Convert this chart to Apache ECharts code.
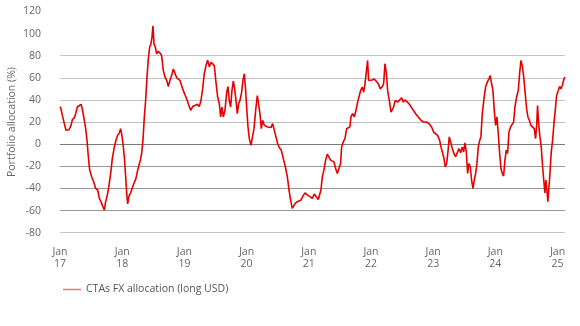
<!DOCTYPE html>
<html>
<head>
<meta charset="utf-8">
<script src="https://cdn.jsdelivr.net/npm/echarts@6/dist/echarts.min.js"></script>
<style>
html,body{margin:0;padding:0;background:#fff;}
#chart{width:580px;height:326px;}
</style>
</head>
<body>
<div id="chart"></div>
<script>
// Decimal years (time) of each observation
const years = [
2017.000,2017.016,2017.038,2017.070,2017.096,2017.123,2017.145,2017.177,2017.198,2017.230,2017.252,2017.279,2017.305,2017.338,2017.359,2017.391,2017.413,2017.434,2017.456,2017.477,2017.509,2017.541,2017.573,2017.606,2017.632,2017.659,2017.686,2017.713,2017.734,2017.761,2017.788,2017.815,2017.841,2017.874,2017.900,2017.927,2017.954,2017.975,2017.991,
2018.013,2018.034,2018.056,2018.072,2018.088,2018.109,2018.136,2018.163,2018.190,2018.217,2018.243,2018.270,2018.292,2018.313,2018.334,2018.356,2018.377,2018.399,2018.420,2018.442,2018.463,2018.479,2018.495,2018.511,2018.533,2018.554,2018.581,2018.613,2018.634,2018.661,2018.688,2018.715,2018.742,2018.768,2018.795,2018.822,2018.849,2018.876,2018.902,2018.929,2018.972,
2019.004,2019.036,2019.063,2019.101,2019.133,2019.170,2019.208,2019.240,2019.267,2019.294,2019.320,2019.347,2019.374,2019.401,2019.428,2019.454,2019.481,2019.508,2019.535,2019.562,2019.583,2019.605,2019.626,2019.653,2019.680,2019.701,2019.722,2019.744,2019.765,2019.787,2019.808,2019.830,2019.851,2019.872,2019.894,2019.921,2019.942,2019.964,2019.985,
2020.001,2020.023,2020.044,2020.071,2020.098,2020.119,2020.146,2020.173,2020.194,2020.215,2020.237,2020.258,2020.285,2020.312,2020.339,2020.365,2020.392,2020.419,2020.446,2020.473,2020.499,2020.526,2020.558,2020.591,2020.623,2020.655,2020.682,2020.708,2020.735,2020.757,2020.783,2020.816,2020.848,2020.875,2020.901,2020.939,2020.982,
2021.019,2021.057,2021.089,2021.121,2021.153,2021.175,2021.196,2021.218,2021.244,2021.271,2021.298,2021.325,2021.352,2021.378,2021.405,2021.432,2021.459,2021.491,2021.512,2021.528,2021.555,2021.582,2021.609,2021.636,2021.662,2021.678,2021.705,2021.732,2021.759,2021.786,2021.807,2021.834,2021.861,2021.882,2021.904,2021.925,2021.946,2021.962,2021.989,
2022.021,2022.054,2022.086,2022.118,2022.150,2022.182,2022.204,2022.225,2022.247,2022.268,2022.295,2022.322,2022.343,2022.364,2022.391,2022.429,2022.461,2022.493,2022.520,2022.547,2022.579,2022.611,2022.643,2022.681,2022.718,2022.761,2022.804,2022.847,2022.890,2022.932,2022.975,
2023.007,2023.029,2023.072,2023.104,2023.125,2023.147,2023.174,2023.195,2023.217,2023.238,2023.259,2023.281,2023.308,2023.334,2023.361,2023.388,2023.415,2023.442,2023.468,2023.490,2023.511,2023.533,2023.554,2023.576,2023.597,2023.618,2023.640,2023.661,2023.683,2023.704,2023.726,2023.747,2023.768,2023.790,2023.817,2023.843,2023.870,2023.897,2023.918,2023.940,2023.961,2023.983,
2024.004,2024.026,2024.047,2024.069,2024.090,2024.111,2024.133,2024.154,2024.176,2024.197,2024.219,2024.245,2024.272,2024.294,2024.315,2024.342,2024.369,2024.390,2024.412,2024.433,2024.454,2024.476,2024.503,2024.524,2024.546,2024.572,2024.599,2024.626,2024.647,2024.663,2024.679,2024.696,2024.717,2024.738,2024.760,2024.781,2024.797,2024.813,2024.829,2024.845,2024.862,2024.878,2024.899,2024.921,2024.942,2024.963,2024.985,
2025.012,2025.033,2025.055,2025.076,2025.097,2025.119
];

// CTAs FX allocation (long USD), % of portfolio
const allocation = [
34,32,26,18.6,12.6,11,13,17,22,24,27.6,33.6,35,36,32,21.6,14,3.6,-11.4,-23.4,-29.4,-34,-40,-41.4,-49,-52,-56,-59.5,-52,-46,-37,-26.4,-13,-2.4,3.6,8,10,14,9.6,
0.6,-11.4,-29.4,-44,-54,-47,-44,-44,-35,-32,-25,-19,-14.4,-8.4,3.6,24.6,39.6,60.6,77,87.7,90.7,96.7,107,90.7,87.7,81.7,84,82,80,66.7,60.6,57.7,52.2,57.7,62,68,64,60,59,57.7,50,
48.6,41,36.6,30.6,34,35,36,34,39.6,50,63.7,71,76,70,74,75.7,71,56,42.6,36.6,24.6,33.6,24.6,30.6,47,52,39.6,33.6,48.6,57,50,39.6,27.6,36.6,39.6,47,57.7,63.7,48.6,
33.6,15.6,5,-1,-2.4,14,30.6,44,45.6,27.6,14,21.6,17,18.6,15.6,17,15,18.6,17,6.6,0.6,-3,-5.4,-13,-20.4,-29.4,-41.4,-50.5,-58,-59.5,-53.5,-52,-53.5,-50.5,-47.4,-44,-46,
-47.4,-49,-45,-46,-50,-49,-41.4,-29.4,-23.4,-14.4,-9,-10,-14.4,-16,-16,-22,-26.4,-26.4,-17.4,-2.4,2,5,14,15,15.6,24.6,27.6,24.6,30.6,38,42.6,48.6,51.6,47,54.6,53,75.7,57.7,56,
58,59,57.7,54.6,50,52,54.6,72.7,65,48.6,39.6,29,27.6,33.6,39.6,38,39.6,42,38,40,40,36.6,34,30.6,27.6,24.6,21.6,20,20,18.6,15.6,
11,9.6,8,3.6,-2.4,-7,-13,-20.4,-17.4,-7,6.6,2,-4,-8.4,-11.4,-10,-4,-7.8,-2.4,-7,1.2,-7,-26.4,-17.4,-20.4,-32.4,-40,-32.4,-26.4,-17.4,-2.4,3,6.6,27.6,41,51.6,56,59,62,54.6,48.6,30.6,
17,24.6,9.6,-8.4,-22,-26.4,-28.8,-14.4,-5.4,-8.4,11,15.6,18,20,33.6,42.6,48.6,63.7,75.7,71,62,48.6,32,24.6,21.6,17,15.6,14,5,15.6,35,18.6,6.6,-2.4,-20.4,-34,-44,-32.4,-41.4,-52,-50.5,-26.4,-7,3.6,18.6,30.6,44,
48.6,52.2,50,53,57.7,60.6
];

const xTickYears = [2017,2018,2019,2020,2021,2022,2023,2024,2025];
const xMin = 2017, xMax = 2025.12;
const yMin = -80, yMax = 120, yStep = 20;
const seriesName = 'CTAs FX allocation (long USD)';
const yTitle = 'Portfolio allocation (%)';

const points = years.map((y, i) => [y, allocation[i]]);
const FONT = '"Open Sans", "DejaVu Sans", sans-serif';

const chart = echarts.init(document.getElementById('chart'), null, {renderer: 'canvas'});
chart.setOption({
  animation: false,
  backgroundColor: '#ffffff',
  grid: {left: 60, right: 15, top: 11.4, bottom: 93.3, containLabel: false, outerBoundsMode: 'none'},
  legend: {
    show: true,
    left: 58, top: 279,
    itemWidth: 18, itemHeight: 1.5,
    icon: 'rect',
    data: [{name: seriesName, icon: 'rect', itemStyle: {color: '#e60000', opacity: 0.55}}],
    textStyle: {fontFamily: FONT, fontSize: 10.5, color: '#555555'}
  },
  xAxis: {
    type: 'value',
    min: xMin, max: xMax, interval: 1,
    axisLine: {show: false},
    axisTick: {show: false},
    splitLine: {show: false},
    axisLabel: {
      margin: 13,
      fontFamily: FONT, fontSize: 10.5, color: '#666666', lineHeight: 12.5,
      showMaxLabel: false,
      formatter: function (v) {
        const r = Math.round(v);
        if (Math.abs(v - r) > 1e-6 || xTickYears.indexOf(r) < 0) return '';
        return 'Jan\n' + String(r).slice(2);
      }
    }
  },
  yAxis: {
    type: 'value',
    min: yMin, max: yMax, interval: yStep,
    name: yTitle,
    nameLocation: 'middle',
    nameGap: 42,
    nameMoveOverlap: false,
    nameTextStyle: {fontFamily: FONT, fontSize: 10.5, color: '#666666'},
    axisLine: {show: false},
    axisTick: {show: false},
    axisLabel: {margin: 19, fontFamily: FONT, fontSize: 10.5, color: '#666666'},
    splitLine: {
      show: true,
      lineStyle: {
        width: 1,
        color: ['#c4c4c4', '#979797', '#979797', '#979797', '#7a7a7a', '#bdbdbd', '#c4c4c4', '#c4c4c4', '#c4c4c4', 'rgba(0,0,0,0)', 'rgba(0,0,0,0)']
      }
    }
  },
  series: [{
    name: seriesName,
    type: 'line',
    data: points,
    showSymbol: false,
    symbol: 'none',
    lineStyle: {color: '#e60000', width: 1.6},
    itemStyle: {color: '#e60000'}
  }]
});
</script>
</body>
</html>
